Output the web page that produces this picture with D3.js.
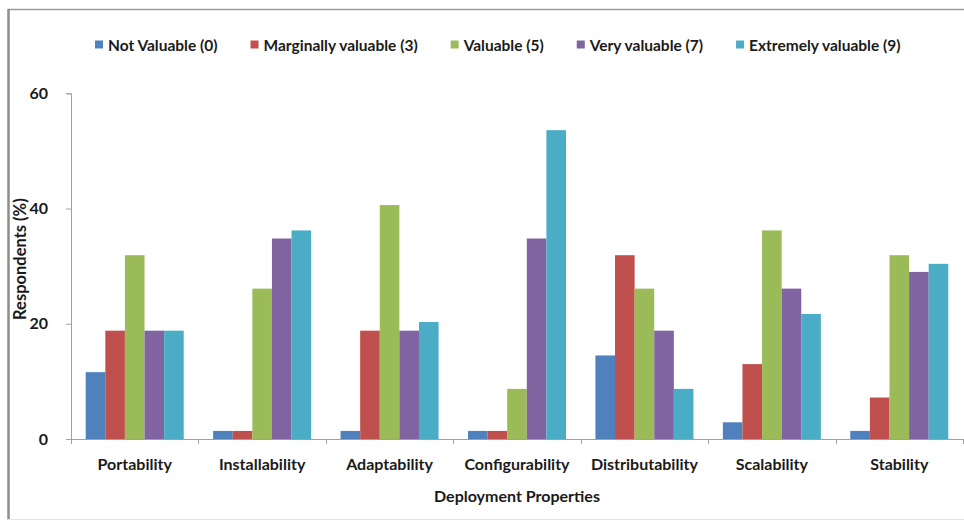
<!DOCTYPE html>
<html>
<head>
<meta charset="utf-8">
<script src="https://cdn.jsdelivr.net/npm/d3@7"></script>
<style>
  html, body { margin: 0; padding: 0; background: #fff; }
  svg { display: block; }
  text { font-family: Lato, "Open Sans", sans-serif; font-weight: bold; fill: #1a1a1a; }
</style>
</head>
<body>
<svg id="chart" width="964" height="521"></svg>
<script>
// Deployment properties rated by survey respondents (percent of respondents)
const categories = ["Portability", "Installability", "Adaptability", "Configurability",
                    "Distributability", "Scalability", "Stability"];
const seriesNames = ["Not Valuable (0)", "Marginally valuable (3)", "Valuable (5)",
                     "Very valuable (7)", "Extremely valuable (9)"];
const seriesColors = ["#4F81BD", "#C0504D", "#9BBB59", "#8064A2", "#4BACC6"];

const notValuable        = [11.6, 1.4, 1.4, 1.4, 14.5, 2.9, 1.4];
const marginallyValuable = [18.8, 1.4, 18.8, 1.4, 31.9, 13.0, 7.2];
const valuable           = [31.9, 26.1, 40.6, 8.7, 26.1, 36.2, 31.9];
const veryValuable       = [18.8, 34.8, 18.8, 34.8, 18.8, 26.1, 29.0];
const extremelyValuable  = [18.8, 36.2, 20.3, 53.6, 8.7, 21.7, 30.4];

const yTicks = [0, 20, 40, 60];
const yLabel = "Respondents (%)";
const xLabel = "Deployment Properties";

const seriesValues = [notValuable, marginallyValuable, valuable, veryValuable, extremelyValuable];

const svg = d3.select("#chart");
const W = 964, H = 521;
const plot = { left: 71, right: 963, top: 93.3, bottom: 439 };

// outer frame
svg.append("line").attr("x1", 8).attr("x2", W).attr("y1", 9.5).attr("y2", 9.5)
  .attr("stroke", "#9a9a9a").attr("stroke-width", 1.5);
svg.append("line").attr("x1", 8.5).attr("x2", 8.5).attr("y1", 9).attr("y2", 519.5)
  .attr("stroke", "#8c8c8c").attr("stroke-width", 2.5);
svg.append("line").attr("x1", 8).attr("x2", W).attr("y1", 519.5).attr("y2", 519.5)
  .attr("stroke", "#e4e4e4").attr("stroke-width", 1);

const x0 = d3.scaleBand().domain(categories).range([plot.left, plot.right]).padding(0);
const bw = x0.bandwidth();
const barW = bw / 6.5;
const x1 = d3.scaleBand().domain(d3.range(seriesNames.length))
  .range([barW * 0.75, bw - barW * 0.75]).padding(0);
const y = d3.scaleLinear().domain([0, 60]).range([plot.bottom, plot.top]);

// bars
const groups = svg.append("g").selectAll("g")
  .data(categories)
  .join("g")
  .attr("transform", d => `translate(${x0(d)},0)`);

groups.selectAll("rect")
  .data((c, ci) => seriesValues.map((vals, si) => ({ si, v: vals[ci] })))
  .join("rect")
  .attr("x", d => x1(d.si))
  .attr("width", x1.bandwidth())
  .attr("y", d => y(d.v))
  .attr("height", d => y(0) - y(d.v))
  .attr("fill", d => seriesColors[d.si]);

// y axis
const yAxis = d3.axisLeft(y).tickValues(yTicks).tickSize(5).tickPadding(18);
const gy = svg.append("g").attr("transform", `translate(${plot.left},0)`).call(yAxis);
gy.select(".domain").attr("stroke", "#a0a0a0");
gy.selectAll(".tick line").attr("stroke", "#a0a0a0");
gy.selectAll(".tick text").style("font-size", "16px").attr("fill", "#1a1a1a")
  .style("font-family", "Lato, sans-serif").style("font-weight", "bold");

// x axis
const xAxis = d3.axisBottom(x0).tickSize(0).tickPadding(20);
const gx = svg.append("g").attr("transform", `translate(0,${plot.bottom})`).call(xAxis);
gx.select(".domain").attr("stroke", "#a0a0a0").attr("d", `M${plot.left},0.5H${W}`);
gx.selectAll(".tick text").style("font-size", "16px").attr("fill", "#1a1a1a")
  .style("font-family", "Lato, sans-serif").style("font-weight", "bold");
// category separators
gx.selectAll(".sep")
  .data(d3.range(categories.length + 1))
  .join("line")
  .attr("class", "sep")
  .attr("x1", i => Math.round(plot.left + i * bw) + 0.5)
  .attr("x2", i => Math.round(plot.left + i * bw) + 0.5)
  .attr("y1", 0).attr("y2", 5)
  .attr("stroke", "#a0a0a0");

// axis titles
svg.append("text")
  .attr("transform", `translate(26,${(plot.top + plot.bottom) / 2 - 7}) rotate(-90)`)
  .attr("text-anchor", "middle")
  .style("font-size", "16.5px")
  .text(yLabel);

svg.append("text")
  .attr("x", (plot.left + plot.right) / 2)
  .attr("y", 502)
  .attr("text-anchor", "middle")
  .style("font-size", "16px")
  .text(xLabel);

// legend
const legend = svg.append("g");
let lx = 95;
seriesNames.forEach((name, i) => {
  legend.append("rect").attr("x", lx).attr("y", 40.5).attr("width", 8).attr("height", 8)
    .attr("fill", seriesColors[i]);
  const t = legend.append("text").attr("x", lx + 13).attr("y", 50.5)
    .style("font-size", "15.5px").text(name);
  lx += 13 + t.node().getComputedTextLength() + 33;
});
</script>
</body>
</html>
